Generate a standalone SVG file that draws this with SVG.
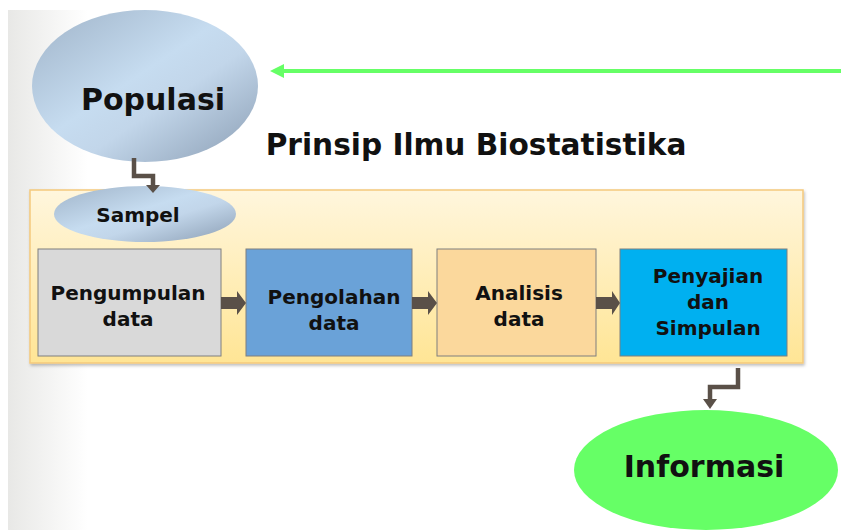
<svg xmlns="http://www.w3.org/2000/svg" width="841" height="530" viewBox="0 0 841 530">
<defs>
<linearGradient id="bgL" x1="0" y1="0" x2="1" y2="0">
<stop offset="0" stop-color="#e8e8e6"/>
<stop offset="1" stop-color="#ffffff"/>
</linearGradient>
<linearGradient id="ell" x1="0" y1="0" x2="1" y2="1">
<stop offset="0" stop-color="#9fb3c8"/>
<stop offset="0.45" stop-color="#c6dcf0"/>
<stop offset="0.6" stop-color="#c2d6ea"/>
<stop offset="1" stop-color="#8a9db3"/>
</linearGradient>
<linearGradient id="cont" x1="0" y1="0" x2="0" y2="1">
<stop offset="0" stop-color="#fff6dd"/>
<stop offset="1" stop-color="#ffe595"/>
</linearGradient>
<filter id="sh" x="-5%" y="-5%" width="110%" height="115%">
<feDropShadow dx="1" dy="2" stdDeviation="1.5" flood-color="#000" flood-opacity="0.25"/>
</filter>
</defs>
<style>
.t{font-family:"DejaVu Sans",Verdana,sans-serif;font-weight:bold;fill:#111;text-anchor:middle}
.box{stroke:#7f7f7f;stroke-width:1}
.con{fill:none;stroke:#5a5048;stroke-width:4.5}
.blk{fill:#5a5048}
</style>
<rect x="8" y="10" width="833" height="520" fill="#ffffff"/>
<rect x="8" y="10" width="80" height="520" fill="url(#bgL)"/>

<g id="container">
<rect x="30" y="190" width="773" height="173" fill="url(#cont)" stroke="#f5c97c" stroke-width="1.5" filter="url(#sh)"/>
</g>

<g id="populasi">
<ellipse cx="145" cy="86" rx="113" ry="76" fill="url(#ell)"/>
<text class="t" x="153" y="110" font-size="30">Populasi</text>
</g>

<g id="title">
<text class="t" x="476" y="155" font-size="29.6">Prinsip Ilmu Biostatistika</text>
</g>

<g id="sampel">
<ellipse cx="145" cy="214" rx="91" ry="28" fill="url(#ell)"/>
<text class="t" x="138" y="222" font-size="20">Sampel</text>
</g>

<g id="pengumpulan">
<rect class="box" x="38" y="249" width="183" height="107" fill="#d9d9d9"/>
<text class="t" x="128" y="300" font-size="20">Pengumpulan</text>
<text class="t" x="128" y="326" font-size="20">data</text>
</g>

<g id="pengolahan">
<rect class="box" x="246" y="249" width="166" height="107" fill="#6aa2d8"/>
<text class="t" x="334" y="304" font-size="20">Pengolahan</text>
<text class="t" x="334" y="330" font-size="20">data</text>
</g>

<g id="analisis">
<rect class="box" x="437" y="249" width="159" height="107" fill="#fbd89c"/>
<text class="t" x="519" y="300" font-size="20">Analisis</text>
<text class="t" x="519" y="326" font-size="20">data</text>
</g>

<g id="penyajian">
<rect class="box" x="620" y="249" width="167" height="107" fill="#00b0f0"/>
<text class="t" x="708" y="283" font-size="20">Penyajian</text>
<text class="t" x="708" y="309" font-size="20">dan</text>
<text class="t" x="708" y="335" font-size="20">Simpulan</text>
</g>

<g id="informasi">
<ellipse cx="706" cy="470" rx="132" ry="60" fill="#66ff66"/>
<text class="t" x="704" y="477" font-size="30">Informasi</text>
</g>

<g id="connectors">
<path d="M841,71 L282,71" stroke="#66ff66" stroke-width="4" fill="none"/>
<path d="M270,71 L284,64 L284,78 Z" fill="#66ff66"/>
<path class="con" d="M134,158 L134,176 L153,176 L153,186"/>
<path class="blk" d="M146,185 L160,185 L153,193 Z"/>
<path class="con" d="M738,368 L738,387 L710,387 L710,400"/>
<path class="blk" d="M703,399 L717,399 L710,409 Z"/>
<path class="blk" d="M221,297 L237,297 L237,291 L246,303 L237,315 L237,309 L221,309 Z"/>
<path class="blk" d="M412,297 L428,297 L428,291 L437,303 L428,315 L428,309 L412,309 Z"/>
<path class="blk" d="M596,297 L612,297 L612,291 L620,303 L612,315 L612,309 L596,309 Z"/>
</g>
</svg>
